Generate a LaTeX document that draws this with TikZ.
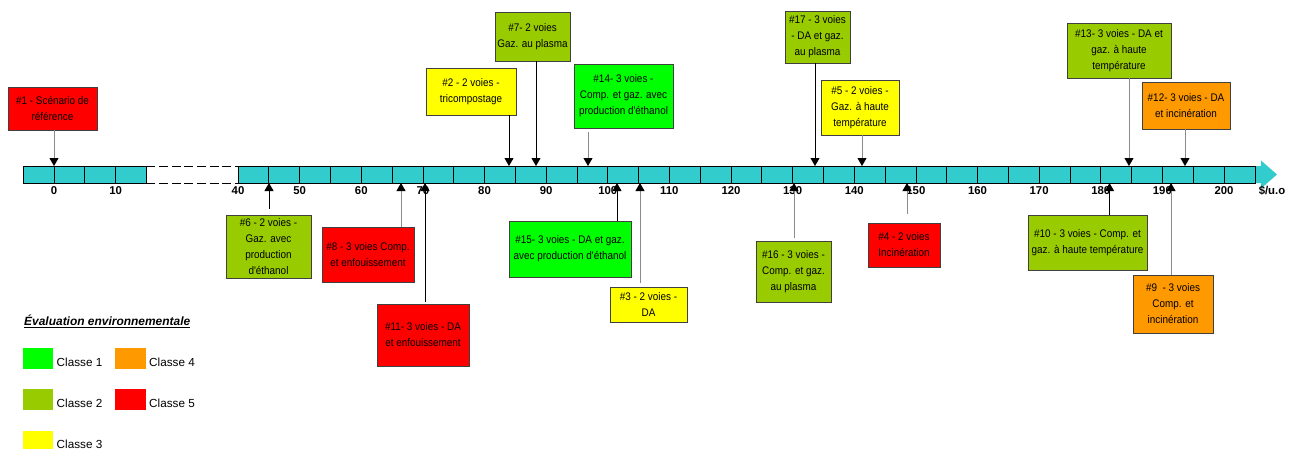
\documentclass[tikz,border=0pt]{standalone}
\usepackage{fontspec}
\setmainfont{Liberation Sans}
\newfontfamily\boitefont[FakeStretch=0.9]{Liberation Sans}
\usetikzlibrary{arrows.meta}
\definecolor{clun}{HTML}{00FF00}
\definecolor{cldeux}{HTML}{99CC00}
\definecolor{cltrois}{HTML}{FFFF00}
\definecolor{clquatre}{HTML}{FF9900}
\definecolor{clcinq}{HTML}{FF0000}
\definecolor{barre}{HTML}{33CCCC}

\begin{document}
\begin{tikzpicture}[x=0.03cm, y=-0.03cm,
    boite/.style = {draw=black!75, line width=0.7pt, inner sep=0pt, align=center,
        font=\boitefont\fontsize{9.4}{13.7}\selectfont},
    fleche/.style = {line width=0.8pt, -{Triangle[width=2.7mm, length=2.4mm, color=black]}},
    flecheg/.style = {fleche, draw=black!45},
    graduation/.style = {inner sep=0pt, font=\bfseries\fontsize{9.7}{11}\selectfont},
    carre/.style = {inner sep=0pt, minimum width=0.92cm, minimum height=0.63cm},
    legende/.style = {anchor=west, inner sep=0pt, font=\fontsize{10}{12}\selectfont}]
    \useasboundingbox (0,0) rectangle (1290,449);

    % axe des couts
    \fill[barre] (1255,166) -- (1261,166) -- (1261,160.5) -- (1277,174.5) -- (1261,188.5) -- (1261,183) -- (1255,183) -- cycle;
    \draw[fill=barre, line width=0.6pt] (23.2,166) rectangle (146.4,183);
    \draw[fill=barre, line width=0.6pt] (238,166) rectangle (1255,183);
    \foreach \v in {0,5,10} \draw[line width=0.6pt] ({54+\v*6.1625},166) -- ++(0,17);
    \foreach \v in {45,50,...,200} \draw[line width=0.6pt] ({238+(\v-40)*6.1625},166) -- ++(0,17);
    \draw[line width=0.8pt, dash pattern=on 2.7mm off 1.1mm] (146.4,166) -- (238,166) (146.4,183) -- (238,183);
    \foreach \v in {0,10} \node[graduation] (t\v) at ({54+\v*6.1625},191) {\v};
    \foreach \v in {40,50,...,200} \node[graduation] (t\v) at ({238+(\v-40)*6.1625},191) {\v};
    \node[graduation] (unite) at (1272,191) {\$/u.o};

    % points sur l'axe
    \coordinate (p1) at (54,166);
    \coordinate (p2) at (509,166);
    \coordinate (p7) at (536,166);
    \coordinate (p14) at (588,166);
    \coordinate (p17) at (815,166);
    \coordinate (p5) at (862,166);
    \coordinate (p13) at (1129,166);
    \coordinate (p12) at (1185,166);
    \coordinate (p6) at (269,183);
    \coordinate (p8) at (401,183);
    \coordinate (p11) at (425,183);
    \coordinate (p15) at (617,183);
    \coordinate (p3) at (640,183);
    \coordinate (p16) at (794,183);
    \coordinate (p4) at (907,183);
    \coordinate (p10) at (1109.5,183);
    \coordinate (p9) at (1171,183);

    % scenarios au-dessus
    \node[boite, fill=clcinq, minimum width=2.67cm, minimum height=1.29cm] (b1) at (52.5,108.5) {\#1 - Scénario de\\référence};
    \node[boite, fill=cltrois, minimum width=2.7cm, minimum height=1.41cm] (b2) at (471,91.5) {\#2 - 2 voies -\\tricompostage};
    \node[boite, fill=cldeux, minimum width=2.25cm, minimum height=1.47cm] (b7) at (532.5,36.5) {\#7- 2 voies\\Gaz. au plasma};
    \node[boite, fill=clun, minimum width=2.97cm, minimum height=1.92cm] (b14) at (623.5,96) {\#14- 3 voies -\\Comp. et gaz. avec\\production d'éthanol};
    \node[boite, fill=cldeux, minimum width=1.95cm, minimum height=1.56cm] (b17) at (817.5,37) {\#17 - 3 voies\\- DA et gaz.\\au plasma};
    \node[boite, fill=cltrois, minimum width=2.34cm, minimum height=1.65cm] (b5) at (860,107.5) {\#5 - 2 voies -\\Gaz. à haute\\température};
    \node[boite, fill=cldeux, minimum width=3.12cm, minimum height=1.65cm] (b13) at (1119,50.5) {\#13- 3 voies - DA et\\gaz. à haute\\température};
    \node[boite, fill=clquatre, minimum width=2.64cm, minimum height=1.41cm] (b12) at (1186,105.5) {\#12- 3 voies - DA\\et incinération};

    % scenarios au-dessous
    \node[boite, fill=cldeux, minimum width=2.55cm, minimum height=1.89cm] (b6) at (268.5,246.5) {\#6 - 2 voies -\\Gaz. avec\\production\\d'éthanol};
    \node[boite, fill=clcinq, minimum width=2.76cm, minimum height=1.65cm] (b8) at (368,254.5) {\#8 - 3 voies Comp.\\et enfouissement};
    \node[boite, fill=clcinq, minimum width=2.76cm, minimum height=1.86cm] (b11) at (423,335) {\#11- 3 voies - DA\\et enfouissement};
    \node[boite, fill=clun, minimum width=3.66cm, minimum height=1.68cm] (b15) at (570,249) {\#15- 3 voies - DA et gaz.\\avec production d'éthanol};
    \node[boite, fill=cltrois, minimum width=2.31cm, minimum height=1.05cm] (b3) at (648.5,304.5) {\#3 - 2 voies -\\DA};
    \node[boite, fill=cldeux, minimum width=2.25cm, minimum height=1.83cm] (b16) at (793.5,271.5) {\#16 - 3 voies -\\Comp. et gaz.\\au plasma};
    \node[boite, fill=clcinq, minimum width=2.16cm, minimum height=1.32cm] (b4) at (904,245) {\#4 - 2 voies\\Incinération};
    \node[boite, fill=cldeux, minimum width=3.57cm, minimum height=1.65cm] (b10) at (1087.5,242.5) {\#10 - 3 voies - Comp. et\\gaz. à haute température};
    \node[boite, fill=clquatre, minimum width=2.4cm, minimum height=1.74cm] (b9) at (1173,304) {\#9 \ - 3 voies\\Comp. et\\incinération};

    % fleches
    \draw[flecheg] (b1.south -| p1) -- (p1);
    \draw[fleche] (b2.south -| p2) -- (p2);
    \draw[fleche] (b7.south -| p7) -- (p7);
    \draw[flecheg, shorten <=1.2mm] (b14.south -| p14) -- (p14);
    \draw[fleche] (b17.south -| p17) -- (p17);
    \draw[flecheg] (b5.south -| p5) -- (p5);
    \draw[flecheg] (b13.south -| p13) -- (p13);
    \draw[flecheg] (b12.south -| p12) -- (p12);
    \draw[fleche, shorten <=1.8mm] (b6.north -| p6) -- (p6);
    \draw[flecheg] (b8.north -| p8) -- (p8);
    \draw[fleche, shorten <=0.6mm] (b11.north -| p11) -- (p11);
    \draw[fleche] (b15.north -| p15) -- (p15);
    \draw[flecheg, shorten <=1.2mm] (b3.north -| p3) -- (p3);
    \draw[flecheg, shorten <=0.9mm] (b16.north -| p16) -- (p16);
    \draw[flecheg, shorten <=2.7mm] (b4.north -| p4) -- (p4);
    \draw[fleche] (b10.north -| p10) -- (p10);
    \draw[flecheg] (b9.north -| p9) -- (p9);

    % legende
    \node[anchor=west, inner sep=0pt, font=\bfseries\itshape\fontsize{10.2}{12}\selectfont] (titre) at (24,321) {\underline{Évaluation environnementale}};
    \node[carre, fill=clun] (s1) at (38,358.5) {};
    \node[carre, fill=cldeux] (s2) at (38,399.5) {};
    \node[carre, fill=cltrois] (s3) at (38,441) {};
    \node[carre, fill=clquatre] (s4) at (130.5,358.5) {};
    \node[carre, fill=clcinq] (s5) at (130.5,399.5) {};
    \node[legende] (l1) at (56.5,362) {Classe 1};
    \node[legende] (l2) at (56.5,403) {Classe 2};
    \node[legende] (l3) at (56.5,444) {Classe 3};
    \node[legende] (l4) at (149,362) {Classe 4};
    \node[legende] (l5) at (149,403) {Classe 5};
\end{tikzpicture}
\end{document}
